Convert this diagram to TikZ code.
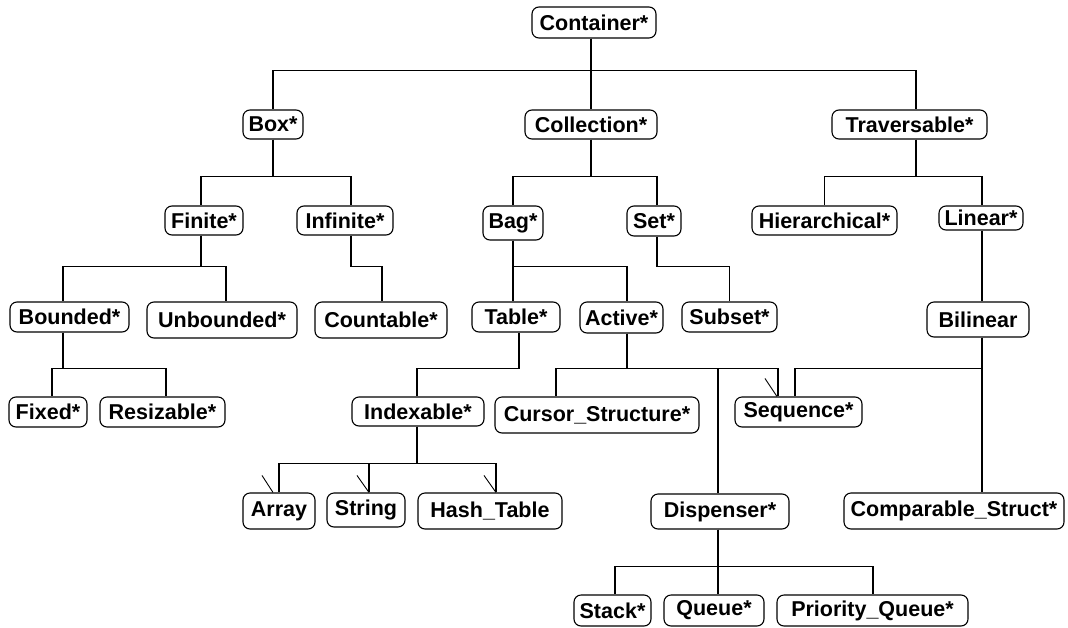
\documentclass[tikz,border=0pt]{standalone}
\usepackage{fontspec}
\setmainfont{Liberation Sans}
\begin{document}
\begin{tikzpicture}[x=1pt,y=-1pt,
  nd/.style={draw, rounded corners=7pt, line width=1.1pt, inner sep=0pt,
    font=\fontsize{21.5}{24}\selectfont\bfseries, align=center},
  ln/.style={line width=1.1pt},
  tick/.style={line width=0.9pt}]
\useasboundingbox (0,0) rectangle (1068,627);

% level 0 and 1
\node[nd, minimum width=124, minimum height=31] (cont) at (594,22.5) {Container*};
\node[nd, minimum width=60,  minimum height=29] (box)  at (273,124.5) {Box*};
\node[nd, minimum width=132, minimum height=29] (coll) at (591,124.5) {Collection*};
\node[nd, minimum width=155, minimum height=29] (trav) at (909.5,124.5) {Traversable*};

% level 2
\node[nd, minimum width=78,  minimum height=29] (fin)  at (204,220.5) {Finite*};
\node[nd, minimum width=96,  minimum height=29] (inf)  at (345,220.5) {Infinite*};
\node[nd, minimum width=60,  minimum height=34] (bag)  at (513,223) {Bag*};
\node[nd, minimum width=54,  minimum height=30] (set)  at (654,221) {Set*};
\node[nd, minimum width=145, minimum height=29] (hier) at (824.5,220.5) {Hierarchical*};
\node[nd, minimum width=84,  minimum height=24] (lin)  at (981,218) {Linear*};

% level 3
\node[nd, minimum width=119, minimum height=30] (bnd)  at (69.5,317) {Bounded*};
\node[nd, minimum width=150, minimum height=36] (unb)  at (222,320) {Unbounded*};
\node[nd, minimum width=132, minimum height=36] (cnt)  at (381,320) {Countable*};
\node[nd, minimum width=88,  minimum height=30] (tab)  at (516,317) {Table*};
\node[nd, minimum width=83,  minimum height=31] (act)  at (621.5,317.5) {Active*};
\node[nd, minimum width=95,  minimum height=30] (sub)  at (729.5,317) {Subset*};
\node[nd, minimum width=102, minimum height=35] (bil)  at (978,319.5) {Bilinear};

% level 4
\node[nd, minimum width=78,  minimum height=30] (fix)  at (48,412) {Fixed*};
\node[nd, minimum width=125, minimum height=30] (res)  at (162.5,412) {Resizable*};
\node[nd, minimum width=132, minimum height=29] (idx)  at (418,411.5) {Indexable*};
\node[nd, minimum width=204, minimum height=36] (cur)  at (597,415) {Cursor\_Structure*};
\node[nd, minimum width=127, minimum height=30] (seq)  at (798.5,412) {Sequence*};

% level 5
\node[nd, minimum width=72,  minimum height=36] (arr)  at (279,511) {Array};
\node[nd, minimum width=78,  minimum height=34] (str)  at (366,510) {String};
\node[nd, minimum width=144, minimum height=36] (hash) at (490,511) {Hash\_Table};
\node[nd, minimum width=138, minimum height=35] (dis)  at (720,511.5) {Dispenser*};
\node[nd, minimum width=220, minimum height=36] (cmp)  at (954,511) {Comparable\_Struct*};

% level 6
\node[nd, minimum width=77,  minimum height=31] (stk)  at (612.5,610.5) {Stack*};
\node[nd, minimum width=100, minimum height=31] (que)  at (714,610.5) {Queue*};
\node[nd, minimum width=191, minimum height=31] (pq)   at (872.5,610.5) {Priority\_Queue*};

% tree connectors
\draw[ln] ([xshift=-3]cont.south) -- ++(0,32) -| (box.north);
\draw[ln] ([xshift=-3]cont.south) -- (coll.north);
\draw[ln] ([xshift=-3]cont.south) -- ++(0,32) -| ([xshift=6.5]trav.north);

\draw[ln] (box.south) -- ++(0,37) -| ([xshift=-3]fin.north);
\draw[ln] (box.south) -- ++(0,37) -| ([xshift=6]inf.north);
\draw[ln] (coll.south) -- ++(0,37) -| (bag.north);
\draw[ln] (coll.south) -- ++(0,37) -| ([xshift=3]set.north);
\draw[ln] ([xshift=6.5]trav.south) -- ++(0,37) -| (hier.north);
\draw[ln] ([xshift=6.5]trav.south) -- ++(0,37) -| ([xshift=1]lin.north);

\draw[ln] ([xshift=-3]fin.south) -- ++(0,31) -| ([xshift=-6.5]bnd.north);
\draw[ln] ([xshift=-3]fin.south) -- ++(0,31) -| ([xshift=4]unb.north);
\draw[ln] ([xshift=6]inf.south) -- ++(0,31) -| ([xshift=1]cnt.north);
\draw[ln] (bag.south) -- ++(0,26) -| ([xshift=-3]tab.north);
\draw[ln] (bag.south) -- ++(0,26) -| ([xshift=5.5]act.north);
\draw[ln] ([xshift=3]set.south) -- ++(0,30) -| (sub.north);
\draw[ln] ([xshift=1]lin.south) -- ([xshift=4]bil.north);

\draw[ln] ([xshift=-6.5]bnd.south) -- ++(0,36) -| ([xshift=4]fix.north);
\draw[ln] ([xshift=-6.5]bnd.south) -- ++(0,36) -| ([xshift=3.5]res.north);
\draw[ln] ([xshift=3]tab.south) -- ++(0,36) -| ([xshift=-1]idx.north);
\draw[ln] ([xshift=5.5]act.south) -- ++(0,35) -| ([xshift=-41]cur.north);
\draw[ln] ([xshift=5.5]act.south) -- ++(0,35) -| ([xshift=-2]dis.north);
\draw[ln] ([xshift=5.5]act.south) -- ++(0,35) -| ([xshift=-20.5]seq.north);
\draw[ln] ([xshift=4]bil.south) -- ++(0,31) -| ([xshift=-3.5]seq.north);
\draw[ln] ([xshift=4]bil.south) -- ([xshift=28]cmp.north);

\draw[ln] ([xshift=-1]idx.south) -- ++(0,37) -| (arr.north);
\draw[ln] ([xshift=-1]idx.south) -- ++(0,37) -| ([xshift=3]str.north);
\draw[ln] ([xshift=-1]idx.south) -- ++(0,37) -| ([xshift=6]hash.north);

\draw[ln] ([xshift=-2]dis.south) -- ++(0,37) -| ([xshift=2.5]stk.north);
\draw[ln] ([xshift=-2]dis.south) -- ([xshift=4]que.north);
\draw[ln] ([xshift=-2]dis.south) -- ++(0,37) -| ([xshift=0.5]pq.north);

% slanted marks at the tops of some drops
\draw[tick] ([xshift=-6]arr.north) -- ++(-11,-17);
\draw[tick] ([xshift=3]str.north) -- ++(-12,-17);
\draw[tick] ([xshift=6]hash.north) -- ++(-12,-17);
\draw[tick] ([xshift=-21.5]seq.north) -- ++(-12,-18);
\end{tikzpicture}
\end{document}
